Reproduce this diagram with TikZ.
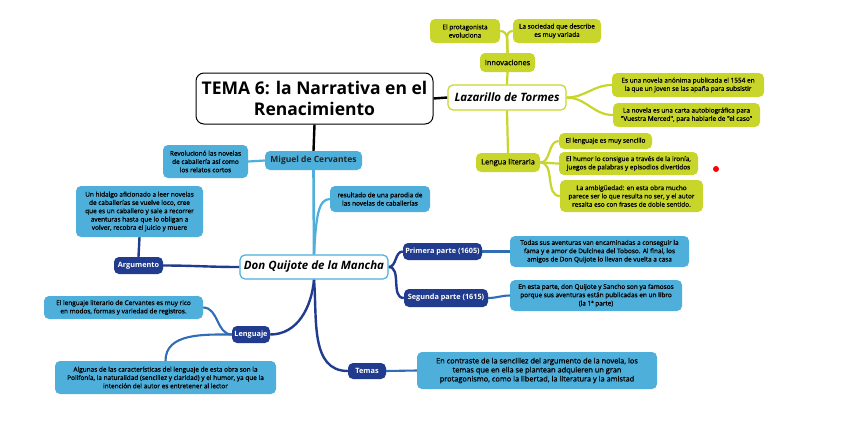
\documentclass[tikz,border=0pt]{standalone}
\usepackage{fontspec}
\usetikzlibrary{backgrounds}
\setmainfont{Open Sans}
\newfontfamily\semi{Open Sans}[FakeBold=1]
\definecolor{limec}{HTML}{C8D62B}
\definecolor{cyanc}{HTML}{4DAFDA}
\definecolor{darkc}{HTML}{213C8E}
\definecolor{midc}{HTML}{2F6DB5}
\pgfdeclarelayer{bottom}
\pgfsetlayers{bottom,background,main}
\begin{document}
\begin{tikzpicture}[x=1pt,y=-1pt,
  box/.style={rounded corners=5pt, align=center, inner sep=1pt, text=black},
  leaf/.style={box, font=\semi\fontsize{6.45}{8.3}\selectfont},
  limebox/.style={leaf, fill=limec},
  cyanbox/.style={leaf, fill=cyanc},
  darkbox/.style={box, fill=darkc, text=white, font=\bfseries\fontsize{7.3}{8.5}\selectfont},
  mainbox/.style={box, fill=white, line width=1.2pt, font=\bfseries\itshape\fontsize{11.5}{13}\selectfont},
  limeline/.style={draw=limec, line width=2.2pt},
  cyanline/.style={draw=cyanc, line width=2.2pt},
  darkline/.style={draw=darkc, line width=2.4pt},
  midline/.style={draw=midc, line width=2.1pt}
]
\useasboundingbox (0,0) rectangle (848,432);
\begin{pgfonlayer}{bottom}
\fill[white] (0,0) rectangle (848,432);
\end{pgfonlayer}

% nodes
\node[box, draw=black, line width=1pt, fill=white, rounded corners=8pt, minimum width=237pt, minimum height=51pt,
  font=\bfseries\fontsize{17.5}{20.5}\selectfont] (title) at (314.5,98.5) {TEMA 6: la Narrativa en el\\Renacimiento};

\node[mainbox, draw=limec, minimum width=118pt, minimum height=25pt] (laz) at (507,97.5) {Lazarillo de Tormes};
\node[limebox, minimum width=55pt, minimum height=19pt, font=\semi\fontsize{7.4}{9}\selectfont] (innov) at (507.5,62.5) {Innovaciones};
\node[limebox, minimum width=70pt, minimum height=24pt] (prot) at (465,31) {El protagonista\\evoluciona};
\node[limebox, minimum width=88pt, minimum height=24pt] (soc) at (557,31) {La sociedad que describe\\es muy variada};
\node[limebox, minimum width=152pt, minimum height=24pt] (anon) at (688,85) {Es una novela anónima publicada el 1554 en\\la que un joven se las apaña para subsistir};
\node[limebox, minimum width=147pt, minimum height=24pt] (carta) at (686.5,115) {La novela es una carta autobiográfica para\\"Vuestra Merced", para hablarle de "el caso"};
\node[limebox, minimum width=64pt, minimum height=19pt, font=\semi\fontsize{7.4}{9}\selectfont] (lengua) at (508,162.5) {Lengua literaria};
\node[limebox, minimum width=93pt, minimum height=16pt] (sencillo) at (605.5,141) {El lenguaje es muy sencillo};
\node[limebox, minimum width=139pt, minimum height=23pt] (humor) at (628.5,163.5) {El humor lo consigue a través de la ironía,\\juegos de palabras y episodios divertidos};
\node[limebox, minimum width=143pt, minimum height=32pt] (ambig) at (631.5,196) {La ambigüedad: en esta obra mucho\\parece ser lo que resulta no ser, y el autor\\resalta eso con frases de doble sentido.};
\fill[red] (716,169) circle (3pt);

\node[cyanbox, minimum width=97pt, minimum height=19pt, font=\bfseries\fontsize{8.5}{9.5}\selectfont, text=black!85] (miguel) at (313.5,160.5) {Miguel de Cervantes};
\node[cyanbox, minimum width=85pt, minimum height=33pt] (revol) at (205.5,161.5) {Revolucionó las novelas\\de caballería así como\\los relatos cortos};
\node[cyanbox, minimum width=100pt, minimum height=26pt] (parodia) at (380,199) {resultado de una parodia de\\las novelas de caballerías};
\node[cyanbox, minimum width=127pt, minimum height=51pt] (hidalgo) at (139.5,211.5) {Un hidalgo aficionado a leer novelas\\de caballerías se vuelve loco, cree\\que es un caballero y sale a recorrer\\aventuras hasta que lo obligan a\\volver, recobra el juicio y muere};
\node[darkbox, minimum width=49pt, minimum height=17pt] (argum) at (138.5,265.5) {Argumento};
\node[mainbox, draw=cyanc, minimum width=148pt, minimum height=24pt] (quijote) at (314,267) {Don Quijote de la Mancha};
\node[darkbox, minimum width=79pt, minimum height=17pt] (primera) at (442.5,251.5) {Primera parte (1605)};
\node[darkbox, minimum width=84pt, minimum height=18pt] (segunda) at (446,298) {Segunda parte (1615)};
\node[cyanbox, minimum width=179pt, minimum height=31pt] (todas) at (599.5,251.5) {Todas sus aventuras van encaminadas a conseguir la\\fama y e amor de Dulcinea del Toboso. Al final, los\\amigos de Don Quijote lo llevan de vuelta a casa};
\node[cyanbox, minimum width=172pt, minimum height=31pt] (esta) at (596,295.5) {En esta parte, don Quijote y Sancho son ya famosos\\porque sus aventuras están publicadas en un libro\\(la 1ª parte)};
\node[darkbox, minimum width=38pt, minimum height=17pt] (lenguaje) at (251,334.5) {Lenguaje};
\node[cyanbox, minimum width=159pt, minimum height=23pt] (literario) at (123.5,307.5) {El lenguaje literario de Cervantes es muy rico\\en modos, formas y variedad de registros.};
\node[cyanbox, minimum width=221pt, minimum height=33pt] (algunas) at (165.5,377.5) {Algunas de las características del lenguaje de esta obra son la\\Polifonía, la naturalidad (sencillez y claridad) y el humor, ya que la\\intención del autor es entretener al lector};
\node[darkbox, minimum width=38pt, minimum height=16pt] (temas) at (367,371) {Temas};
\node[cyanbox, minimum width=240pt, minimum height=37pt, font=\semi\fontsize{7.4}{9}\selectfont] (contraste) at (537,370.5) {En contraste de la sencillez del argumento de la novela, los\\temas que en ella se plantean adquieren un gran\\protagonismo, como la libertad, la literatura y la amistad};

% connectors
\begin{scope}[on background layer]
  \draw[line width=2.4pt] (title.east) -- (laz.west);
  \draw[line width=2.4pt] (title.south) -- (miguel.north);
  % lime
  \draw[limeline] (laz.north) -- (innov.south);
  \draw[limeline] (innov.north) to[out=90,in=0] (prot.east);
  \draw[limeline] (innov.north) to[out=90,in=180] (soc.west);
  \draw[limeline] (laz.east) to[out=0,in=180] (anon.west);
  \draw[limeline] (laz.east) to[out=0,in=180] (carta.west);
  \draw[limeline] (laz.south) -- (lengua.north);
  \draw[limeline] (lengua.east) to[out=0,in=180] (sencillo.west);
  \draw[limeline] (lengua.east) to[out=0,in=180] (humor.west);
  \draw[limeline] (lengua.east) to[out=0,in=180] (ambig.west);
  % cyan / dark
  \draw[cyanline, line width=2.6pt] (miguel.south) -- (quijote.north);
  \draw[cyanline] (miguel.west) -- (revol.east);
  \draw[cyanline] (quijote.north) .. controls (316,218) and (318,199) .. (parodia.west);
  \draw[darkline] (quijote.west) to[out=180,in=0] (argum.east);
  \draw[darkline] (argum.north) -- (hidalgo.south);
  \draw[darkline] (quijote.east) to[out=0,in=180] (primera.west);
  \draw[darkline] (quijote.east) to[out=0,in=180] (segunda.west);
  \draw[midline] (primera.east) -- (todas.west);
  \draw[midline] (segunda.east) to[out=0,in=180] (esta.west);
  \draw[darkline] (quijote.south) to[out=-95,in=0] (lenguaje.east);
  \draw[darkline] (quijote.south) to[out=-85,in=180] (temas.west);
  \draw[midline] (lenguaje.west) to[out=180,in=0] (literario.east);
  \draw[midline] (lenguaje.west) to[out=180,in=90] (algunas.north);
  \draw[midline] (temas.east) -- (contraste.west);
\end{scope}
\end{tikzpicture}
\end{document}
